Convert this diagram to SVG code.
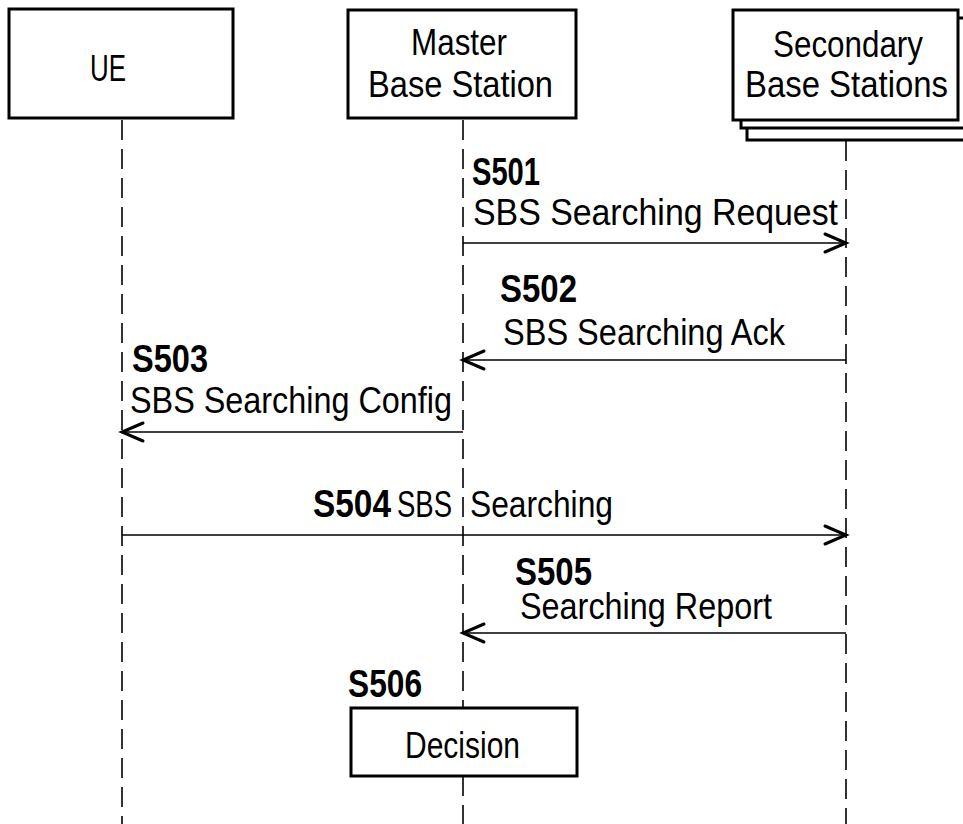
<svg xmlns="http://www.w3.org/2000/svg" width="963" height="824" viewBox="0 0 963 824">
<defs>
<style>
.box{fill:#fff;stroke:#000;stroke-width:3}
.life{stroke:#000;stroke-width:1.6;stroke-dasharray:20 9;fill:none}
.msg{stroke:#000;stroke-width:1.6;fill:none}
.head{stroke:#000;stroke-width:3;fill:none;stroke-linecap:round;stroke-linejoin:miter}
.t{font-family:"Liberation Sans",Arial,sans-serif;font-size:37px;fill:#000}
.b{font-family:"Liberation Sans",Arial,sans-serif;font-size:38px;font-weight:bold;fill:#000}
</style>
</defs>
<rect width="963" height="824" fill="#fff"/>
<g id="connectors">
<line class="life" x1="122" y1="120" x2="122" y2="824"/>
<line class="life" x1="463" y1="120" x2="463" y2="708"/>
<line class="life" x1="463" y1="776" x2="463" y2="824"/>
<line class="life" x1="846" y1="141" x2="846" y2="824"/>
<g id="m-s501">
<line class="msg" x1="463" y1="243" x2="846" y2="243"/>
<polyline class="head" points="825,234 846,243 825,252"/>
</g>
<g id="m-s502">
<line class="msg" x1="846" y1="360" x2="463" y2="360"/>
<polyline class="head" points="484,351 463,360 484,369"/>
</g>
<g id="m-s503">
<line class="msg" x1="463" y1="432" x2="122" y2="432"/>
<polyline class="head" points="143,423 122,432 143,441"/>
</g>
<g id="m-s504">
<line class="msg" x1="122" y1="535" x2="846" y2="535"/>
<polyline class="head" points="825,526 846,535 825,544"/>
</g>
<g id="m-s505">
<line class="msg" x1="846" y1="633" x2="463" y2="633"/>
<polyline class="head" points="484,624 463,633 484,642"/>
</g>
</g>
<g id="ue">
<rect class="box" x="9" y="9" width="224" height="109"/>
<text class="t" x="90" y="81" textLength="36" lengthAdjust="spacingAndGlyphs">UE</text>
</g>
<g id="master">
<rect class="box" x="348" y="10" width="228" height="108"/>
<text class="t" x="411" y="55" textLength="96" lengthAdjust="spacingAndGlyphs">Master</text>
<text class="t" x="368" y="97" textLength="185" lengthAdjust="spacingAndGlyphs">Base Station</text>
</g>
<g id="secondary">
<rect class="box" x="747" y="26" width="230" height="114"/>
<rect class="box" x="741" y="18" width="230" height="110"/>
<rect class="box" x="733" y="10" width="225" height="110"/>
<text class="t" x="773" y="57" textLength="150" lengthAdjust="spacingAndGlyphs">Secondary</text>
<text class="t" x="745" y="97" textLength="203" lengthAdjust="spacingAndGlyphs">Base Stations</text>
</g>
<g id="labels">
<text class="b" x="472" y="185" textLength="68" lengthAdjust="spacingAndGlyphs">S501</text>
<text class="t" x="473" y="225" textLength="365" lengthAdjust="spacingAndGlyphs">SBS Searching Request</text>
<text class="b" x="500" y="302" textLength="77" lengthAdjust="spacingAndGlyphs">S502</text>
<text class="t" x="503" y="345" textLength="282" lengthAdjust="spacingAndGlyphs">SBS Searching Ack</text>
<text class="b" x="132" y="372" textLength="76" lengthAdjust="spacingAndGlyphs">S503</text>
<text class="t" x="130" y="413" textLength="322" lengthAdjust="spacingAndGlyphs">SBS Searching Config</text>
<text class="b" x="313" y="517" textLength="78" lengthAdjust="spacingAndGlyphs">S504</text>
<text class="t" x="397" y="517" textLength="55" lengthAdjust="spacingAndGlyphs">SBS</text>
<text class="t" x="470" y="517" textLength="143" lengthAdjust="spacingAndGlyphs">Searching</text>
<text class="b" x="515" y="585" textLength="77" lengthAdjust="spacingAndGlyphs">S505</text>
<text class="t" x="520" y="619" textLength="252" lengthAdjust="spacingAndGlyphs">Searching Report</text>
<text class="b" x="348" y="697" textLength="74" lengthAdjust="spacingAndGlyphs">S506</text>
</g>
<g id="decision">
<rect class="box" x="351" y="708" width="226" height="68"/>
<text class="t" x="405" y="758" textLength="115" lengthAdjust="spacingAndGlyphs">Decision</text>
</g>
</svg>
